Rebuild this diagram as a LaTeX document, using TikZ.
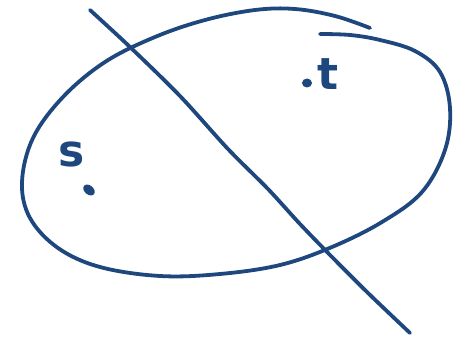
\documentclass[tikz,border=0pt]{standalone}
\usepackage{fontspec}
\usetikzlibrary{shapes.geometric}
\setmainfont{DejaVu Sans}
\definecolor{ink}{RGB}{30,72,125}
\begin{document}
\begin{tikzpicture}[x=1pt,y=-1pt,
  pen/.style={draw=ink,line width=3.8pt,line cap=round,line join=round},
  lbl/.style={text=ink,font=\fontsize{44}{44}\selectfont\bfseries,inner sep=0pt},
  pt/.style={fill=ink,ellipse,inner sep=0pt,minimum width=13pt,minimum height=9pt}]
\useasboundingbox (0,0) rectangle (458,337);
% ellipse-like closed curve (hand drawn, open at top right)
\draw[pen] plot[smooth,tension=0.6] coordinates {
 (370,28) (335,16) (295,9) (255,10) (205,20) (155,37) (105,62) (63,97)
 (33,138) (22,182) (30,218) (58,248) (100,267) (160,276) (220,274)
 (280,265) (332,247) (382,222) (422,192) (445,150) (450,108) (440,72)
 (415,51) (380,40) (350,35) (320,34)};
% cutting line
\draw[pen] plot[smooth,tension=0.5] coordinates {
 (90,10) (130,47) (180,96) (228,149) (268,189) (300,224) (332,257) (368,293) (410,333)};
% labels
\node[lbl] (s) at (72,154) {s};
\node[pt,rotate=-40] (sd) at (89,190) {};
\node[pt,minimum width=10pt] (td) at (307,83) {};
\node[lbl] (t) at (328,74) {t};
\end{tikzpicture}
\end{document}
